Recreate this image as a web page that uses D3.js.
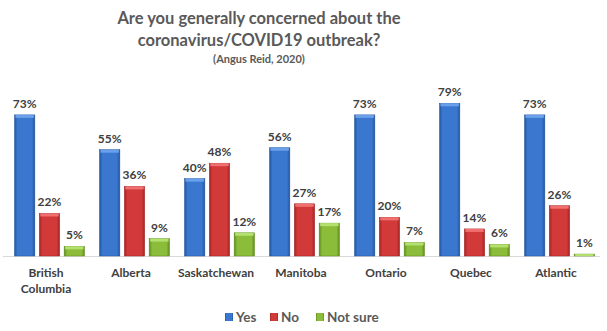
<!DOCTYPE html>
<html><head><meta charset="utf-8">
<script src="https://cdn.jsdelivr.net/npm/d3@7/dist/d3.min.js"></script>
<style>body{margin:0;background:#fff}svg{display:block}</style>
</head><body>
<script>
const categories = ["British Columbia","Alberta","Saskatchewan","Manitoba","Ontario","Quebec","Atlantic"];
const seriesNames = ["Yes","No","Not sure"];
const yesValues = [73,55,40,56,73,79,73];
const noValues = [22,36,48,27,20,14,26];
const notSureValues = [5,9,12,17,7,6,1];
const colors = ["#3a78d0","#d23a3a","#8bbd3a"];
const darks = ["#22549c","#a02222","#5f8a1c"];
const lights = ["#6aa0ea","#f07070","#b4e070"];

const W=607,H=331;
const svg=d3.select("body").append("svg").attr("width",W).attr("height",H);
const font="Lato, 'Open Sans', sans-serif";
const defs=svg.append("defs");
colors.forEach((c,i)=>{
  const g=defs.append("linearGradient").attr("id","g"+i).attr("x1",0).attr("x2",1).attr("y1",0).attr("y2",0);
  g.append("stop").attr("offset","0%").attr("stop-color",darks[i]);
  g.append("stop").attr("offset","15%").attr("stop-color",c);
  g.append("stop").attr("offset","85%").attr("stop-color",c);
  g.append("stop").attr("offset","100%").attr("stop-color",darks[i]);
});

const data=[yesValues,noValues,notSureValues];
const x0=d3.scaleBand().domain(categories).range([3.5,598.5]).paddingInner(0).paddingOuter(0);
const x1=d3.scaleBand().domain(seriesNames).range([11,81]).paddingInner(0.18).paddingOuter(0);
const y=d3.scaleLinear().domain([0,100]).range([256,62.7]);

// title
const t=svg.append("g").attr("font-family",font).attr("font-weight","bold").attr("fill","#595959").attr("text-anchor","middle");
t.append("text").attr("x",259).attr("y",24).attr("font-size",16.5).text("Are you generally concerned about the");
t.append("text").attr("x",259).attr("y",46).attr("font-size",16.5).text("coronavirus/COVID19 outbreak?");
t.append("text").attr("x",259).attr("y",63).attr("font-size",11).text("(Angus Reid, 2020)");

// axis line
svg.append("line").attr("x1",3).attr("x2",600).attr("y1",256.5).attr("y2",256.5).attr("stroke","#d9d9d9");

const groups=svg.selectAll("g.cat").data(categories).join("g").attr("class","cat")
  .attr("transform",d=>`translate(${x0(d)},0)`);
groups.each(function(cat,ci){
  const g=d3.select(this);
  seriesNames.forEach((s,si)=>{
    const v=data[si][ci];
    const bx=x1(s), bw=x1.bandwidth();
    g.append("rect").attr("x",bx).attr("width",bw).attr("y",y(v)).attr("height",y(0)-y(v))
      .attr("fill",`url(#g${si})`).attr("stroke",darks[si]).attr("stroke-width",0.5);
    g.append("rect").attr("x",bx+1).attr("width",bw-2).attr("y",y(v)).attr("height",Math.min(3,y(0)-y(v)))
      .attr("fill",lights[si]);
    g.append("text").attr("x",bx+bw/2).attr("y",y(v)-7).attr("text-anchor","middle")
      .attr("font-family",font).attr("font-weight","bold").attr("font-size",12).attr("fill","#404040")
      .text(v+"%");
  });
  const words=cat==="British Columbia"?["British","Columbia"]:[cat];
  words.forEach((w,wi)=>{
    g.append("text").attr("x",x0.bandwidth()/2).attr("y",277+wi*16).attr("text-anchor","middle")
      .attr("font-family",font).attr("font-weight","bold").attr("font-size",12).attr("fill","#404040").text(w);
  });
});

// legend
const lg=svg.append("g").attr("font-family",font).attr("font-weight","bold").attr("font-size",13.5).attr("fill","#595959");
const lx=[225,270,316];
seriesNames.forEach((s,i)=>{
  lg.append("rect").attr("x",lx[i]).attr("y",313).attr("width",8).attr("height",8).attr("fill",`url(#g${i})`);
  lg.append("text").attr("x",lx[i]+11).attr("y",321.5).text(s);
});
</script>
</body></html>
